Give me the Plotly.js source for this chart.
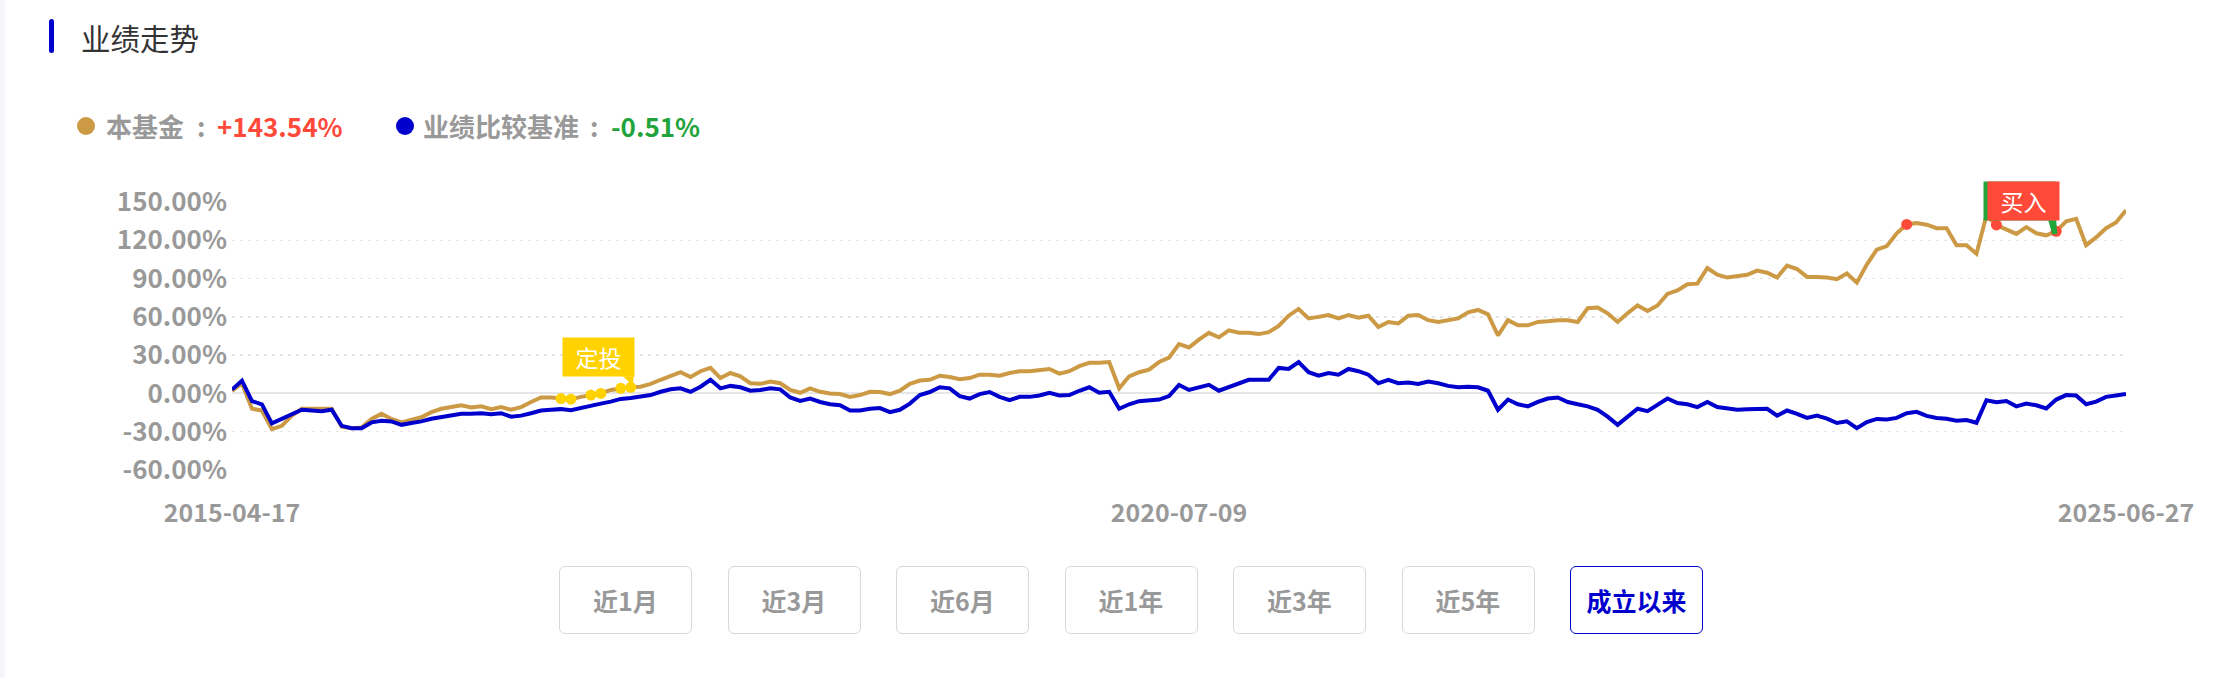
<!DOCTYPE html>
<html>
<head>
<meta charset="utf-8">
<script src="https://cdn.plot.ly/plotly-3.0.1.min.js"></script>
<style>
  html, body { margin:0; padding:0; background:#fff; width:2220px; height:678px; overflow:hidden;
    font-family:"Noto Sans CJK SC","Noto Sans",sans-serif; }
  #edge { position:absolute; left:0; top:0; width:5px; height:678px; background:#f5f6fa; }
  #bar { position:absolute; left:49px; top:19px; width:5px; height:34px; background:#0000cc; border-radius:3px; }
  #title { position:absolute; left:81px; top:17px; font-size:29.5px; line-height:40px; color:#333; }
  .leg { position:absolute; top:108px; font-size:26px; line-height:36px; font-weight:bold; color:#999; white-space:pre; }
  .dot { position:absolute; top:117px; width:18px; height:18px; border-radius:50%; }
  .btn { position:absolute; top:566px; width:131px; height:66px; border:1px solid #d9d9d9; border-radius:6px;
    font-size:25px; line-height:66px; text-align:center; font-weight:bold; color:#999; background:#fff; }
  .btn.on { border-color:#0000cc; color:#0000cc; }
  #chart { position:absolute; left:0; top:0; width:2220px; height:678px; }
</style>
</head>
<body>
<div id="chart"></div>
<div id="edge"></div>
<div id="bar"></div>
<div id="title">业绩走势</div>
<div id="legend"></div>
<div id="buttons"></div>
<script>
// ---- data ----
const seriesNames = ['本基金', '业绩比较基准'];
const seriesColors = ['#cc9a45', '#0000cc'];
const totalReturns = ['+143.54%', '-0.51%'];
const returnColors = ['#ff4a3a', '#1fa33a'];

const xTickLabels = ['2015-04-17', '2020-07-09', '2025-06-27'];
const yTickValues = [-60, -30, 0, 30, 60, 90, 120, 150];
const yTickLabels = ['-60.00%', '-30.00%', '0.00%', '30.00%', '60.00%', '90.00%', '120.00%', '150.00%'];

const fund = [
 2, 8, -12, -13.4, -28, -25.4, -17.4, -12, -12, -12,
 -12, -26, -27.2, -26.7, -20, -16, -20, -22.7, -20.8, -18.7,
 -14.7, -12, -10.7, -9.3, -11, -10.1, -12.3, -10.7, -12.8, -10.7,
 -6.7, -3.2, -3.2, -4, -4.5, -2.7, -1.3, 0, 2.7, 4,
 4.8, 5.3, 7.5, 10.7, 13.4, 16.6, 12.8, 17.4, 20, 12,
 16, 13.4, 8, 7.5, 9.3, 8, 2.7, 0.5, 4, 1.3,
 0, -0.5, -2.7, -1.3, 1.3, 1.1, -0.5, 2.1, 7.5, 10.1,
 10.7, 13.9, 12.8, 11.2, 12, 14.7, 14.7, 13.9, 16, 17.4,
 17.4, 18.4, 19.2, 15.5, 17.4, 21.4, 24, 24, 24.6, 4,
 13.4, 16.6, 18.7, 24.6, 28, 38.7, 36, 42.2, 47.5, 44,
 49.4, 47.5, 47.5, 46.5, 48, 52.9, 60.9, 66.2, 58.8, 60,
 61.4, 58.8, 61.4, 59.3, 60.9, 52, 56, 54.8, 60.9, 61.4,
 57.4, 56, 57.4, 58.8, 63.6, 65.4, 62, 45.4, 57.4, 53.4,
 53.4, 56, 56.6, 57.4, 57.4, 56, 66.8, 67.3, 62.8, 56,
 62.8, 68.9, 64.6, 68.9, 78, 80.7, 85.5, 86, 98.3, 93,
 90.8, 92.1, 93, 96.2, 94.6, 90.8, 100.2, 97.5, 91.3, 91.3,
 90.8, 89.5, 94, 86.8, 101, 112.7, 115.4, 125.5, 132.4, 133.6,
 132.2, 129.5, 129.5, 116.2, 116.2, 109.5, 139.4, 132, 128.7, 125,
 130.3, 125.5, 123.9, 127, 134.9, 136.8, 116.2, 122.3, 129.5, 134,
 143.54
];
const bench = [
 3, 10, -6, -8.5, -23.5, -20, -16, -12.8, -13.4, -13.9,
 -12.8, -25.4, -27.2, -27.2, -22.7, -21.4, -21.9, -24.6, -23.2, -21.9,
 -19.8, -18.7, -17.1, -16, -16, -15.5, -16.3, -15.5, -18.2, -17.4,
 -15.5, -13.4, -12.8, -12.3, -13.1, -11.2, -9.6, -8, -6.4, -4.3,
 -3.5, -2.7, -1.3, 1.3, 3.2, 4, 1.3, 5.3, 10.7, 4,
 5.9, 4.8, 2.1, 2.7, 4, 3.2, -3.2, -5.9, -4, -6.7,
 -8.5, -9.3, -13.4, -13.4, -12, -11.5, -14.7, -12.8, -8, -1.3,
 1.1, 4.8, 4, -2.1, -4, -0.5, 1.1, -2.7, -5.3, -2.7,
 -2.7, -1.6, 0.5, -1.6, -1.3, 2.1, 4.8, 0.5, 1.3, -12,
 -8.5, -6.1, -5.3, -4.8, -2.1, 6.7, 2.7, 4.8, 6.7, 2.1,
 4.8, 7.5, 10.7, 10.7, 10.7, 20, 19.2, 24.6, 16.6, 13.9,
 16, 14.7, 19.2, 17.4, 14.7, 8, 10.7, 8, 8.5, 7.5,
 9.3, 8, 5.9, 4.8, 5.3, 4.8, 2.1, -12.8, -4.8, -8.5,
 -10.1, -6.7, -4, -3.2, -6.7, -8.5, -10.1, -12.8, -18.2, -24.6,
 -18.2, -12, -13.9, -8.5, -4, -7.5, -8.5, -10.7, -6.7, -10.7,
 -12, -12.8, -12.3, -12, -12, -17.4, -13.4, -16, -19.2, -17.4,
 -19.8, -23.2, -21.9, -27.2, -22.4, -20, -20.5, -19.2, -15.5, -14.4,
 -17.6, -19.2, -19.8, -21.4, -20.8, -23, -5.3, -6.9, -5.9, -10.1,
 -8, -9.3, -11.8, -4.8, -1.3, -1.6, -8.5, -6.4, -2.7, -1.6,
 -0.51
];
// event markers (index into the series)
const planIdx = [33, 34, 36, 37, 39, 40];   // 定投
const buyIdx = [168, 177, 183];             // 买入
const planLabel = '定投';
const buyLabel = '买入';
const rangeButtons = ['近1月', '近3月', '近6月', '近1年', '近3年', '近5年', '成立以来'];
const activeButton = '成立以来';

// ---- HTML header pieces ----
const legend = document.getElementById('legend');
const legPos = [
  { dot: 77, label: 106, colon: 197, value: 217 },
  { dot: 396, label: 423, colon: 590, value: 611 }
];
function addEl(cls, left, html, style) {
  const d = document.createElement('div');
  d.className = cls;
  d.style.left = left + 'px';
  if (style) Object.assign(d.style, style);
  d.innerHTML = html;
  legend.appendChild(d);
}
seriesNames.forEach((n, k) => {
  const p = legPos[k];
  addEl('dot', p.dot, '', { background: seriesColors[k] });
  addEl('leg', p.label, n);
  addEl('leg', p.colon, ':');
  addEl('leg', p.value, totalReturns[k], { color: returnColors[k], fontSize: '26px' });
});
const bwrap = document.getElementById('buttons');
rangeButtons.forEach((b, k) => {
  const d = document.createElement('div');
  d.className = 'btn' + (b === activeButton ? ' on' : '');
  d.style.left = (559 + 168.5 * k) + 'px';
  d.textContent = b;
  bwrap.appendChild(d);
});

// ---- chart ----
const n = fund.length;
const tickPos = [0, Math.floor((n - 1) / 2), n - 1];
const F = '"Noto Sans CJK SC", "Noto Sans", sans-serif';

const traces = [
  { y: fund, mode: 'lines', line: { color: seriesColors[0], width: 4 }, hoverinfo: 'skip' },
  { y: bench, mode: 'lines', line: { color: seriesColors[1], width: 4 }, hoverinfo: 'skip' },
  { x: planIdx, y: planIdx.map(i => fund[i]), mode: 'markers', marker: { color: '#ffd200', size: 11 }, hoverinfo: 'skip' },
  { x: buyIdx, y: buyIdx.map(i => fund[i]), mode: 'markers', marker: { color: '#ff4a3a', size: 11 }, hoverinfo: 'skip' }
];

const lastPlan = planIdx[planIdx.length - 1];
const lastBuy = buyIdx[buyIdx.length - 1];

const layout = {
  width: 2220, height: 678,
  margin: { l: 232, r: 94, t: 202, b: 208 },
  paper_bgcolor: 'rgba(0,0,0,0)', plot_bgcolor: 'rgba(0,0,0,0)',
  showlegend: false,
  font: { family: F },
  xaxis: {
    range: [0, n - 1], showgrid: false, zeroline: false, showline: false,
    tickvals: tickPos, ticktext: xTickLabels, ticks: '',
    tickfont: { family: F, size: 25, color: '#999', weight: 'bold' },
    ticklabelstandoff: 26
  },
  yaxis: {
    range: [-60, 150], tickvals: yTickValues, ticktext: yTickLabels, ticks: '',
    tickfont: { family: F, size: 26, color: '#999', weight: 'bold' },
    showgrid: true, gridcolor: '#e6e6e6', griddash: '3px,5px', gridwidth: 1.5,
    zeroline: true, zerolinecolor: '#e6e6e6', zerolinewidth: 2, showline: false,
    ticklabelstandoff: 4
  },
  shapes: [
    { type: 'path', xref: 'x', yref: 'y', xsizemode: 'pixel', ysizemode: 'pixel',
      xanchor: lastPlan, yanchor: fund[lastPlan], path: 'M -8,11 L 3,11 L 2,2 Z',
      fillcolor: '#ffd200', line: { width: 0 } },
    { type: 'path', xref: 'x', yref: 'y', xsizemode: 'pixel', ysizemode: 'pixel',
      xanchor: lastBuy, yanchor: fund[lastBuy], path: 'M -8,11 L 0,11 L 1,-3 L -4,-3 Z',
      fillcolor: '#22a63a', line: { width: 0 } }
  ],
  annotations: [
    { x: lastPlan, y: fund[lastPlan], xref: 'x', yref: 'y', text: planLabel, showarrow: false,
      xanchor: 'right', yanchor: 'bottom', xshift: 4, yshift: 10, width: 71, height: 38,
      bgcolor: '#ffd200', font: { family: F, size: 23, color: '#fff' }, borderpad: 0 },
    { x: lastBuy, y: fund[lastBuy], xref: 'x', yref: 'y', text: ' ', showarrow: false,
      xanchor: 'right', yanchor: 'bottom', xshift: 0, yshift: 10, width: 71, height: 38,
      bgcolor: '#22a63a', borderpad: 0 },
    { x: lastBuy, y: fund[lastBuy], xref: 'x', yref: 'y', text: buyLabel, showarrow: false,
      xanchor: 'right', yanchor: 'bottom', xshift: 4, yshift: 10, width: 71, height: 38,
      bgcolor: '#ff4a3a', font: { family: F, size: 23, color: '#fff' }, borderpad: 0 }
  ]
};

Plotly.newPlot('chart', traces, layout, { staticPlot: true, displayModeBar: false });
</script>
</body>
</html>
